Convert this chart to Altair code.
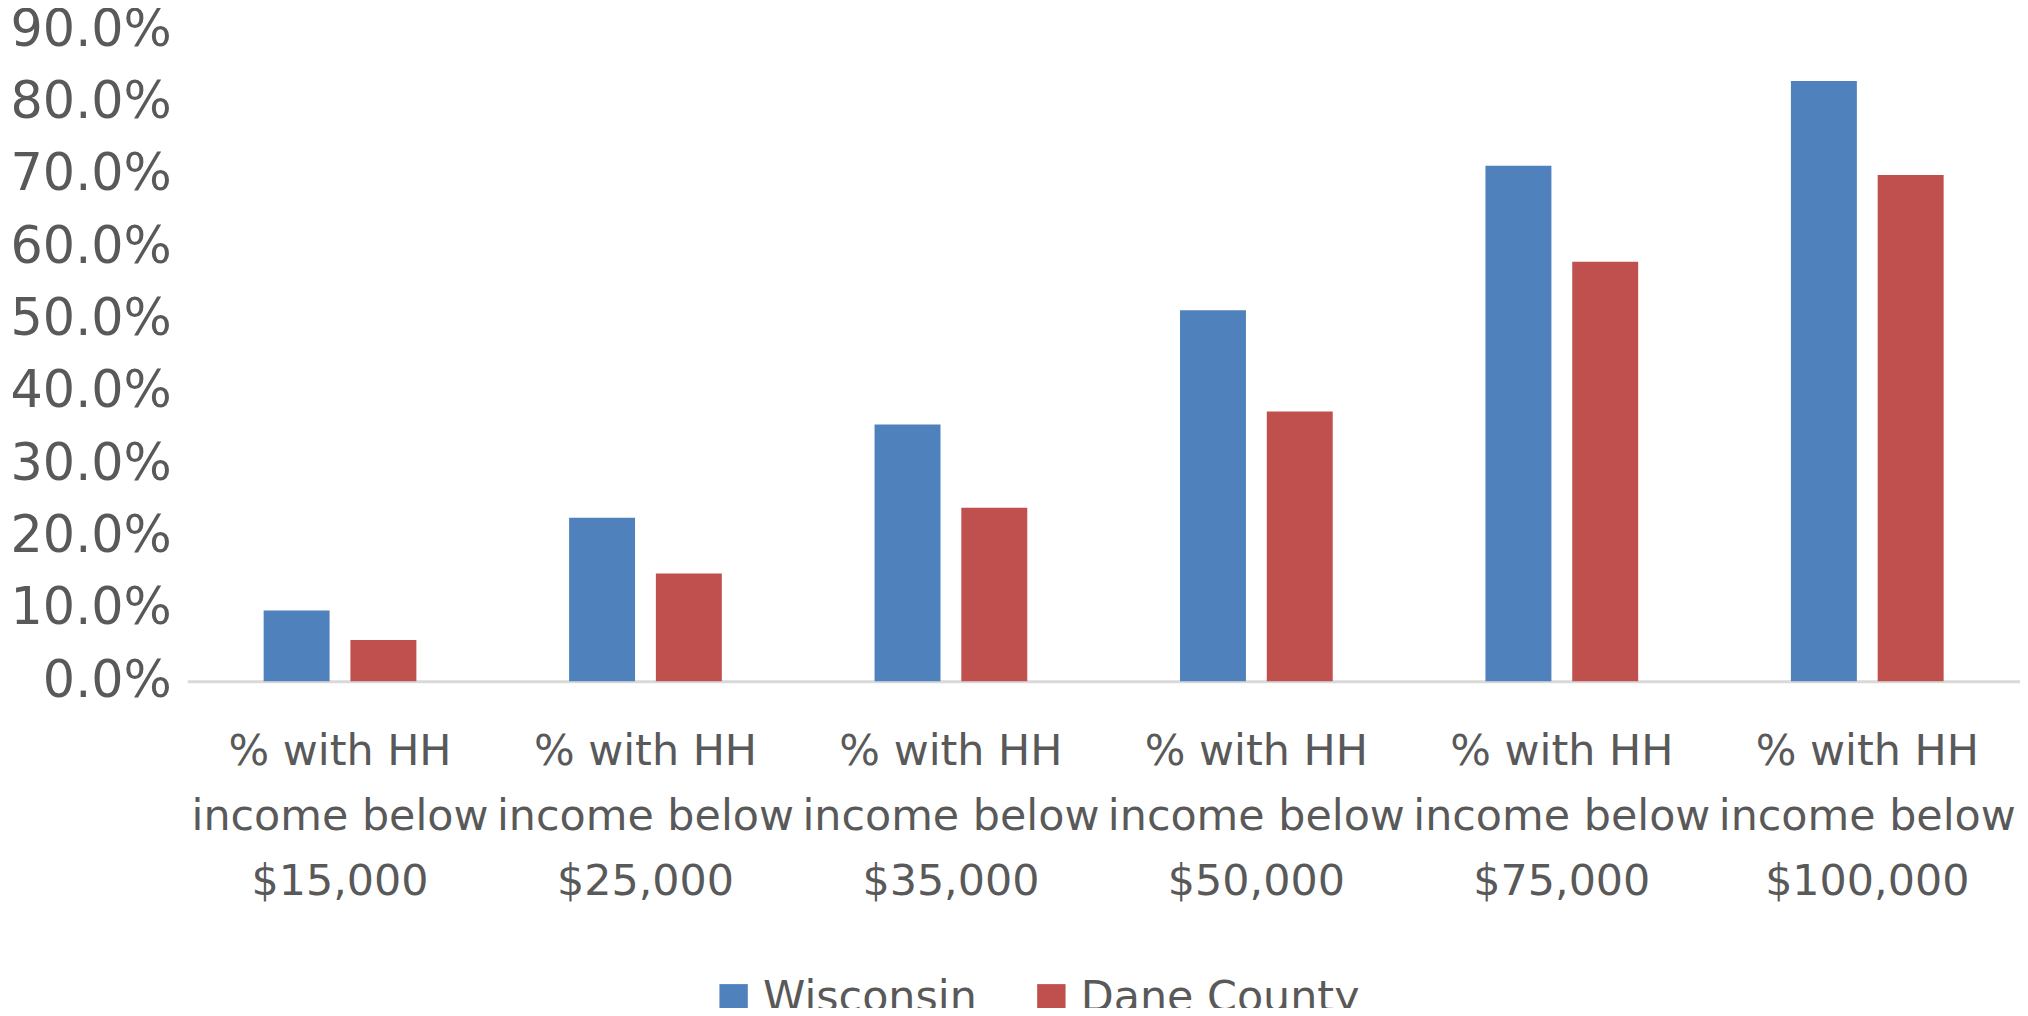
import altair as alt
import pandas as pd

categories = [
    "% with HH|income below|$15,000",
    "% with HH|income below|$25,000",
    "% with HH|income below|$35,000",
    "% with HH|income below|$50,000",
    "% with HH|income below|$75,000",
    "% with HH|income below|$100,000",
]
series = ["Wisconsin", "Dane County"]
wisconsin = [0.098, 0.226, 0.355, 0.513, 0.713, 0.830]
dane_county = [0.057, 0.149, 0.240, 0.373, 0.580, 0.700]
colors = ["#4F81BD", "#C0504D"]
y_ticks = [0.0, 0.1, 0.2, 0.3, 0.4, 0.5, 0.6, 0.7, 0.8, 0.9]

rows = []
for c, w, d in zip(categories, wisconsin, dane_county):
    rows.append({"cat": c, "series": "Wisconsin", "value": w})
    rows.append({"cat": c, "series": "Dane County", "value": d})
df = pd.DataFrame(rows)

TEXT = "#595959"
FONT = "DejaVu Sans"

chart = (
    alt.Chart(df)
    .mark_bar()
    .encode(
        x=alt.X(
            "cat:N",
            sort=categories,
            title=None,
            scale=alt.Scale(paddingInner=0.5, paddingOuter=0.25),
            axis=alt.Axis(
                labelExpr="split(datum.label, '|')",
                labelAngle=0,
                labelFont=FONT,
                labelFontSize=43,
                labelColor=TEXT,
                labelLineHeight=65,
                labelBaseline="top",
                labelPadding=50,
                labelLimit=0,
                labelOverlap=False,
                ticks=False,
                domainColor="#D9D9D9",
                domainWidth=3,
                grid=False,
            ),
        ),
        xOffset=alt.XOffset(
            "series:N",
            sort=series,
            scale=alt.Scale(paddingInner=0.24, paddingOuter=0),
        ),
        y=alt.Y(
            "value:Q",
            title=None,
            scale=alt.Scale(domain=[0, 0.9], nice=False),
            axis=alt.Axis(
                values=y_ticks,
                format=".1%",
                labelFont=FONT,
                labelFontSize=51,
                labelColor=TEXT,
                labelPadding=16,
                ticks=False,
                domain=False,
                grid=False,
                labelBaseline="middle",
            ),
        ),
        color=alt.Color(
            "series:N",
            sort=series,
            scale=alt.Scale(domain=series, range=colors),
            legend=alt.Legend(
                title=None,
                orient="none",
                direction="horizontal",
                legendX=527,
                legendY=950,
                symbolType="square",
                symbolSize=812,
                symbolStrokeWidth=0,
                labelFont=FONT,
                labelFontSize=43,
                labelColor=TEXT,
                labelOffset=8,
                columnPadding=53,
                labelLimit=0,
            ),
        ),
    )
    .properties(
        width=1840,
        height=653.5,
        padding={"left": 180, "top": 20.5, "right": 0, "bottom": 326},
        autosize=alt.AutoSizeParams(type="none"),
        background="white",
    )
    .configure_view(strokeWidth=0, stroke="transparent")
)

chart.save("out.html", embed_options={"renderer": "svg", "actions": False})
